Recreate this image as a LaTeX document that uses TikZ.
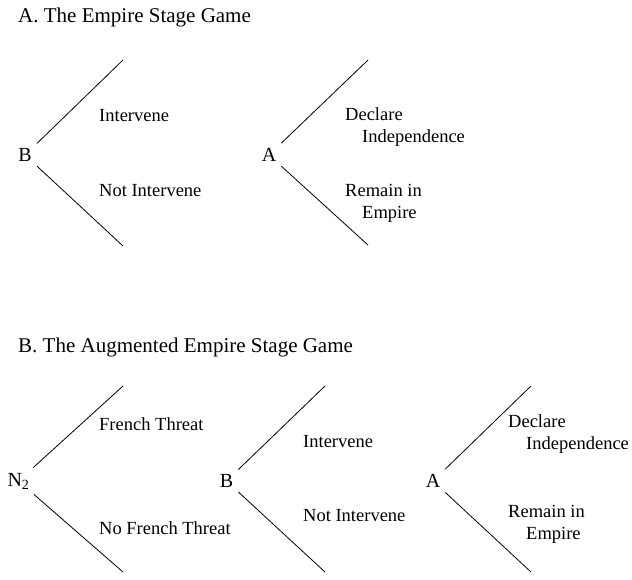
\documentclass[tikz,border=0pt]{standalone}
\usepackage{fontspec}
\setmainfont{Liberation Serif}
\usepackage{tikz}

\tikzset{
  player/.style={inner sep=5pt, font=\fontsize{20}{24}\selectfont},
  move/.style={anchor=base west, align=left, inner sep=0pt, font=\fontsize{18.5}{22}\selectfont},
  panel/.style={anchor=base west, inner sep=0pt, font=\fontsize{21}{25}\selectfont},
  branch/.style={line width=0.8pt},
}

\begin{document}
\begin{tikzpicture}[x=1pt,y=-1pt]
    \useasboundingbox (0,0) rectangle (632,579);

    % A. the empire stage game
    \node[panel] (titleA) at (18,22) {A. The Empire Stage Game};

    \node[player] (bA) at (25,155) {B};
    \coordinate (bAup) at (123,60);
    \coordinate (bAdown) at (123,246);
    \draw[branch] (bA) -- (bAup);
    \draw[branch] (bA) -- (bAdown);
    \node[move] (intA) at (99,121) {Intervene};
    \node[move] (notintA) at (99,196) {Not Intervene};

    \node[player] (aA) at (269,155) {A};
    \coordinate (aAup) at (368,60);
    \coordinate (aAdown) at (368,245);
    \draw[branch] (aA) -- (aAup);
    \draw[branch] (aA) -- (aAdown);
    % base anchor sits on the last line
    \node[move] (declA) at (345,142) {Declare\\\hspace*{17pt}Independence};
    \node[move] (remA) at (345,218) {Remain in\\\hspace*{17pt}Empire};

    % B. the augmented empire stage game
    \node[panel] (titleB) at (18,352) {B. The Augmented Empire Stage Game};

    \node[player] (nB) at (18.5,481) {N\textsubscript{2}};
    \coordinate (nBup) at (123,386);
    \coordinate (nBdown) at (123,572);
    \draw[branch] (nB) -- (nBup);
    \draw[branch] (nB) -- (nBdown);
    \node[move] (frB) at (99,430) {French Threat};
    \node[move] (nofrB) at (99,534) {No French Threat};

    \node[player] (bB) at (226.5,481) {B};
    \coordinate (bBup) at (325,386);
    \coordinate (bBdown) at (325,572);
    \draw[branch] (bB) -- (bBup);
    \draw[branch] (bB) -- (bBdown);
    \node[move] (intB) at (303,447) {Intervene};
    \node[move] (notintB) at (303,521) {Not Intervene};

    \node[player] (aB) at (433,481) {A};
    \coordinate (aBup) at (531,386);
    \coordinate (aBdown) at (531,572);
    \draw[branch] (aB) -- (aBup);
    \draw[branch] (aB) -- (aBdown);
    \node[move] (declB) at (508,449) {Declare\\\hspace*{18pt}Independence};
    \node[move] (remB) at (508,539) {Remain in\\\hspace*{18pt}Empire};
\end{tikzpicture}
\end{document}
